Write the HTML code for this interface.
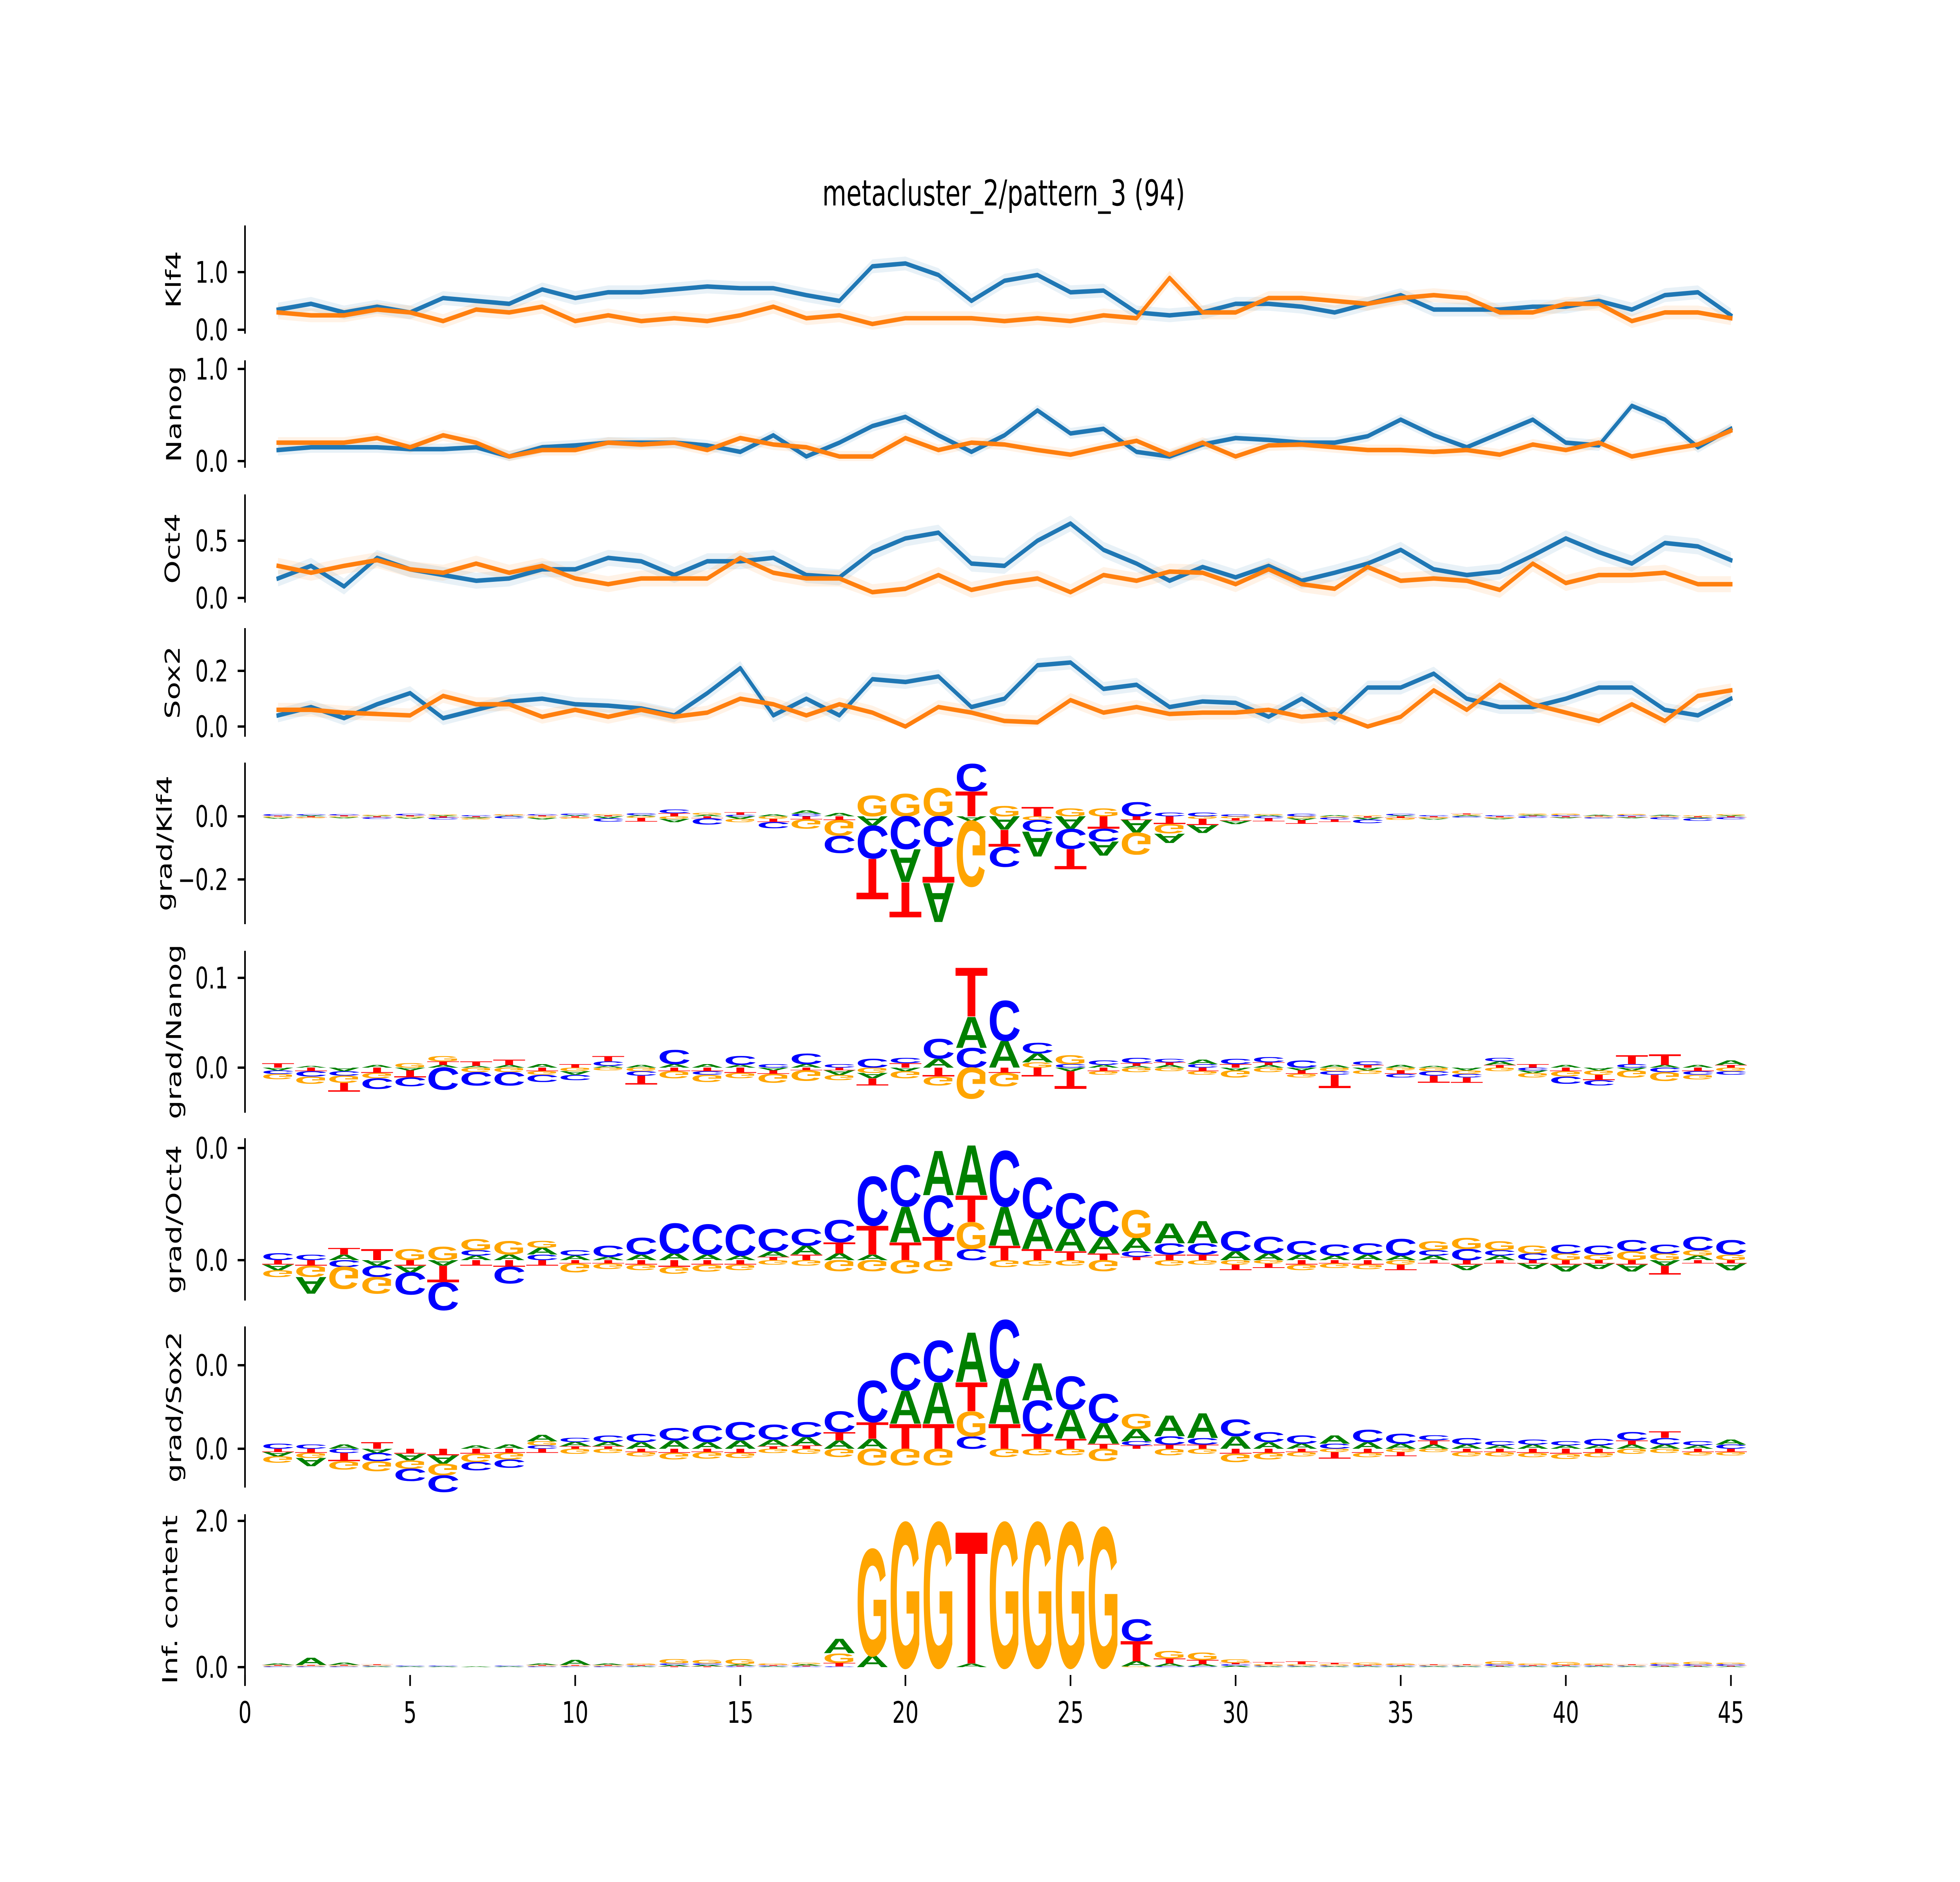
<!DOCTYPE html>
<html><head><meta charset="utf-8"><title>metacluster_2/pattern_3</title>
<style>html,body{margin:0;padding:0;background:#fff;overflow:hidden;width:100%;height:100%}svg{display:block;width:100vw;height:100vh}</style></head>
<body>
<svg id="chart" xmlns="http://www.w3.org/2000/svg" viewBox="0 0 7200 4800" preserveAspectRatio="none" font-family="'DejaVu Sans','Liberation Sans',sans-serif">
<rect width="7200" height="4800" fill="#fff"/>
<text x="3687" y="524" font-size="91" text-anchor="middle">metacluster_2/pattern_3 (94)</text>
<g id="root"></g>
</svg>
<script>
const positions=[1,2,3,4,5,6,7,8,9,10,11,12,13,14,15,16,17,18,19,20,21,22,23,24,25,26,27,28,29,30,31,32,33,34,35,36,37,38,39,40,41,42,43,44,45];
const xTicks=[0,5,10,15,20,25,30,35,40,45];

const klf4Blue=[0.35,0.45,0.3,0.4,0.3,0.55,0.5,0.45,0.7,0.55,0.65,0.65,0.7,0.75,0.72,0.72,0.6,0.5,1.1,1.15,0.95,0.5,0.85,0.95,0.65,0.68,0.3,0.25,0.3,0.45,0.45,0.4,0.3,0.45,0.6,0.35,0.35,0.35,0.4,0.4,0.5,0.35,0.6,0.65,0.25];
const klf4Orange=[0.3,0.25,0.25,0.35,0.3,0.15,0.35,0.3,0.4,0.15,0.25,0.15,0.2,0.15,0.25,0.4,0.2,0.25,0.1,0.2,0.2,0.2,0.15,0.2,0.15,0.25,0.2,0.9,0.3,0.3,0.55,0.55,0.5,0.45,0.55,0.6,0.55,0.3,0.3,0.45,0.45,0.15,0.3,0.3,0.2];
const nanogBlue=[0.12,0.15,0.15,0.15,0.13,0.13,0.15,0.05,0.15,0.17,0.2,0.2,0.2,0.17,0.1,0.28,0.05,0.2,0.38,0.48,0.28,0.1,0.28,0.55,0.3,0.35,0.1,0.05,0.18,0.25,0.23,0.2,0.2,0.27,0.45,0.28,0.15,0.3,0.45,0.2,0.17,0.6,0.45,0.15,0.35];
const nanogOrange=[0.2,0.2,0.2,0.25,0.15,0.28,0.2,0.05,0.12,0.12,0.2,0.18,0.2,0.12,0.25,0.18,0.15,0.05,0.05,0.25,0.12,0.2,0.18,0.12,0.07,0.15,0.22,0.07,0.2,0.05,0.17,0.18,0.15,0.12,0.12,0.1,0.12,0.07,0.18,0.12,0.2,0.05,0.12,0.18,0.33];
const oct4Blue=[0.17,0.28,0.1,0.35,0.25,0.2,0.15,0.17,0.25,0.25,0.35,0.32,0.2,0.32,0.32,0.35,0.2,0.18,0.4,0.52,0.57,0.3,0.28,0.5,0.65,0.42,0.3,0.15,0.27,0.18,0.28,0.15,0.22,0.3,0.42,0.25,0.2,0.23,0.37,0.52,0.4,0.3,0.48,0.45,0.33];
const oct4Orange=[0.28,0.22,0.28,0.33,0.25,0.22,0.3,0.22,0.28,0.17,0.12,0.17,0.17,0.17,0.35,0.22,0.17,0.17,0.05,0.08,0.2,0.07,0.13,0.17,0.05,0.2,0.15,0.23,0.22,0.12,0.25,0.12,0.08,0.27,0.15,0.17,0.15,0.07,0.3,0.13,0.2,0.2,0.22,0.12,0.12];
const sox2Blue=[0.04,0.07,0.03,0.08,0.12,0.03,0.06,0.09,0.1,0.08,0.075,0.065,0.04,0.12,0.21,0.04,0.1,0.04,0.17,0.16,0.18,0.07,0.1,0.22,0.23,0.135,0.15,0.07,0.09,0.085,0.035,0.1,0.03,0.14,0.14,0.19,0.1,0.07,0.07,0.1,0.14,0.14,0.06,0.04,0.1];
const sox2Orange=[0.06,0.06,0.05,0.045,0.04,0.11,0.08,0.08,0.035,0.06,0.035,0.06,0.035,0.05,0.1,0.08,0.04,0.08,0.05,0.0,0.07,0.05,0.02,0.015,0.095,0.05,0.07,0.045,0.05,0.05,0.06,0.035,0.045,0.0,0.035,0.13,0.06,0.15,0.08,0.05,0.02,0.08,0.02,0.11,0.13];
const bandHalf=[0.12,0.06,0.07,0.025];

const kA=[-0.004,0.003,-0.003,0.002,-0.004,0.003,-0.003,0.002,-0.005,0.004,-0.006,0.004,-0.01,0.005,-0.008,0.006,0.01,0.01,-0.03,-0.105,-0.125,-0.015,-0.043,-0.08,-0.04,-0.045,-0.04,-0.03,-0.025,-0.01,0.004,-0.006,0.004,-0.006,0.003,-0.004,0.003,-0.003,0.003,-0.003,0.003,-0.003,0.003,-0.003,0.003];
const kC=[0.005,0.004,0.004,-0.005,0.005,-0.006,0.004,-0.006,0.004,0.005,-0.01,0.006,0.012,-0.02,0.005,-0.02,0.008,-0.055,-0.105,-0.105,-0.097,0.087,-0.064,-0.037,-0.064,-0.04,0.045,0.012,0.012,0.006,-0.006,0.008,-0.006,-0.012,0.005,0.004,-0.004,0.004,-0.005,0.004,-0.004,0.004,-0.006,-0.008,-0.006];
const kG=[-0.004,-0.003,-0.003,0.003,-0.004,0.003,-0.004,0.003,-0.005,-0.004,0.004,-0.005,-0.008,0.006,-0.01,-0.008,-0.03,-0.05,0.066,0.073,0.09,-0.21,0.033,-0.012,0.025,0.025,-0.07,-0.03,-0.008,-0.006,0.004,-0.006,-0.004,0.003,-0.006,-0.004,0.003,-0.003,0.004,0.005,-0.003,0.004,-0.003,0.003,0.004];
const kT=[0.002,-0.003,0.003,-0.003,0.003,-0.004,-0.003,0.002,0.003,-0.004,0.003,-0.012,0.01,-0.006,0.008,-0.01,-0.01,-0.012,-0.13,-0.112,-0.115,0.08,-0.054,0.03,-0.065,-0.04,-0.012,-0.025,-0.02,-0.008,-0.01,-0.012,-0.008,-0.004,-0.005,-0.003,0.003,-0.003,0.002,-0.003,0.002,-0.003,0.002,-0.003,-0.003];

const nA=[-0.003,0.002,-0.004,0.003,-0.003,0.003,0.002,0.003,0.004,-0.004,0.002,0.003,0.004,0.004,0.003,-0.003,0.004,-0.005,-0.006,-0.004,0.01,0.035,0.03,0.01,-0.004,0.003,0.002,0.003,0.005,-0.003,0.003,-0.003,0.003,-0.003,0.003,0.002,-0.003,0.004,-0.003,0.003,-0.003,-0.003,0.003,0.003,0.005];
const nC=[-0.004,-0.006,-0.005,-0.012,-0.01,-0.025,-0.015,-0.015,-0.008,-0.006,0.005,-0.005,0.016,-0.004,0.01,0.004,0.012,0.004,0.01,0.006,0.022,0.022,0.045,0.012,0.004,0.005,0.006,0.004,0.004,0.006,0.006,0.008,-0.004,0.004,-0.004,-0.005,-0.004,0.004,-0.003,-0.008,-0.006,0.004,-0.005,-0.004,-0.004];
const nG=[-0.006,-0.008,-0.008,-0.006,0.005,0.006,-0.005,-0.005,-0.004,-0.004,-0.003,-0.004,-0.008,-0.008,-0.006,-0.01,-0.012,-0.006,-0.006,-0.008,-0.01,-0.035,-0.015,0.006,0.01,-0.004,-0.005,-0.004,-0.004,-0.008,-0.005,-0.004,-0.004,-0.004,-0.003,-0.004,-0.004,-0.004,-0.005,-0.006,-0.005,-0.008,-0.01,-0.005,-0.004];
const nT=[0.005,-0.004,-0.01,-0.006,-0.008,0.004,0.005,0.006,-0.004,0.004,0.006,-0.01,-0.004,-0.004,-0.006,-0.004,-0.003,-0.003,-0.008,0.005,-0.01,0.055,-0.006,-0.01,-0.02,-0.004,0.003,0.003,-0.004,0.004,0.003,-0.004,-0.015,0.003,-0.004,-0.008,-0.006,0.003,0.004,-0.004,-0.006,0.01,0.012,-0.004,0.003];

const oA=[-0.05,-0.15,0.05,-0.05,-0.06,-0.05,0.04,0.05,0.06,0.04,0.03,0.05,0.06,0.05,0.04,0.05,0.08,0.06,0.05,0.32,0.4,0.45,0.35,0.27,0.2,0.15,0.12,0.18,0.2,0.08,0.06,0.05,0.04,0.05,0.04,0.04,-0.05,0.04,-0.05,-0.06,-0.05,-0.06,-0.05,0.04,-0.06];
const oC=[0.06,0.05,-0.06,-0.1,-0.2,-0.25,0.05,-0.15,0.05,0.05,0.1,0.15,0.27,0.27,0.28,0.2,0.15,0.2,0.44,0.37,0.37,0.1,0.5,0.37,0.32,0.32,0.05,0.1,0.1,0.18,0.15,0.12,0.1,0.1,0.15,0.05,0.1,0.05,0.06,0.08,0.08,0.1,0.08,0.12,0.13];
const oG=[-0.06,-0.1,-0.2,-0.15,0.1,0.12,0.1,0.12,0.06,-0.08,-0.05,-0.05,-0.06,-0.06,-0.05,-0.04,-0.05,-0.1,-0.1,-0.12,-0.1,0.24,-0.06,-0.05,-0.05,-0.1,0.25,-0.05,-0.04,-0.04,-0.03,-0.05,-0.04,-0.04,-0.04,0.08,0.1,0.08,0.07,0.06,0.05,0.08,0.06,0.05,0.05];
const oT=[-0.04,-0.05,0.06,0.1,-0.05,-0.15,-0.05,-0.06,-0.05,-0.03,-0.03,-0.04,-0.06,-0.04,-0.04,0.03,0.05,0.1,0.26,0.16,0.21,0.24,0.13,0.1,0.08,0.06,0.03,0.05,0.05,-0.05,-0.04,-0.04,-0.03,-0.04,-0.05,-0.03,-0.04,-0.03,-0.03,-0.04,-0.03,-0.04,-0.08,-0.03,-0.03];

const sA=[-0.05,-0.1,0.05,-0.05,-0.08,-0.1,0.04,0.05,0.08,0.05,0.05,0.08,0.1,0.08,0.1,0.08,0.1,0.1,0.12,0.4,0.5,0.6,0.55,0.45,0.35,0.25,0.15,0.25,0.3,0.15,0.08,0.06,0.1,0.08,0.06,0.05,0.05,0.04,0.05,0.04,0.04,0.05,0.05,0.04,0.06];
const sC=[0.06,0.05,-0.05,-0.1,-0.15,-0.2,-0.1,-0.1,0.04,0.05,0.08,0.1,0.15,0.2,0.22,0.18,0.18,0.25,0.5,0.45,0.5,0.15,0.7,0.4,0.4,0.35,0.05,0.1,0.08,0.2,0.12,0.1,0.06,0.15,0.12,0.06,0.08,0.05,0.06,0.05,0.08,0.1,0.08,0.05,0.05];
const sG=[-0.08,-0.06,-0.1,-0.12,-0.1,-0.14,-0.1,-0.08,0.05,-0.06,-0.05,-0.05,-0.08,-0.08,-0.06,-0.05,-0.06,-0.1,-0.2,-0.2,-0.2,0.3,-0.1,-0.08,-0.08,-0.15,0.18,-0.08,-0.06,-0.1,-0.08,-0.05,-0.04,-0.05,-0.04,-0.04,-0.05,-0.05,-0.05,-0.06,-0.05,-0.06,-0.05,-0.04,-0.04];
const sT=[-0.04,-0.05,-0.1,0.08,-0.06,-0.08,-0.06,-0.05,-0.05,0.03,0.03,-0.04,-0.05,-0.04,-0.05,0.03,0.04,0.1,0.2,0.3,0.3,0.35,0.3,0.18,0.12,0.06,0.04,0.05,0.05,-0.06,-0.05,-0.04,-0.08,-0.05,-0.05,0.05,-0.04,-0.04,-0.05,-0.06,-0.05,0.05,0.08,-0.04,-0.04];

const iA=[0.02,0.1,0.03,0.01,0.01,0.01,0.01,0.01,0.02,0.07,0.02,0.01,0.02,0.02,0.02,0.01,0.02,0.2,0.16,0.0,0.0,0.05,0.0,0.0,0.0,0.0,0.07,0.04,0.03,0.02,0.01,0.01,0.01,0.01,0.01,0.01,0.01,0.01,0.01,0.01,0.01,0.01,0.01,0.01,0.01];
const iC=[0.01,0.01,0.01,0.01,0.01,0.01,0.0,0.01,0.01,0.01,0.01,0.01,0.02,0.02,0.01,0.01,0.01,0.01,0.0,0.0,0.0,0.0,0.0,0.0,0.0,0.0,0.3,0.01,0.01,0.02,0.01,0.01,0.01,0.01,0.01,0.01,0.01,0.02,0.01,0.01,0.01,0.01,0.02,0.02,0.02];
const iG=[0.01,0.01,0.01,0.01,0.0,0.0,0.0,0.0,0.01,0.01,0.01,0.02,0.06,0.05,0.07,0.02,0.02,0.13,1.47,2.0,2.0,0.0,2.0,2.0,2.0,1.93,0.01,0.1,0.1,0.05,0.02,0.02,0.02,0.03,0.02,0.01,0.01,0.04,0.02,0.04,0.02,0.01,0.02,0.03,0.02];
const iT=[0.01,0.01,0.01,0.01,0.0,0.0,0.0,0.0,0.01,0.01,0.01,0.01,0.01,0.01,0.01,0.01,0.01,0.05,0.0,0.0,0.0,1.82,0.0,0.0,0.0,0.0,0.28,0.07,0.06,0.02,0.03,0.04,0.02,0.01,0.01,0.01,0.01,0.01,0.01,0.01,0.01,0.01,0.01,0.01,0.01];

const NS='http://www.w3.org/2000/svg';
const root=document.getElementById('root');
const X0=900, UX=121.3;
function xS(v){return X0+v*UX;}
function mk(tag,attrs,parent){const e=document.createElementNS(NS,tag);for(const k in attrs)e.setAttribute(k,attrs[k]);(parent||root).appendChild(e);return e;}

const layouts=[
 {name:'klf4',label:'Klf4',top:575,bot:851,y0:841,k:147,ticks:[0,1],tl:['0.0','1.0'],lx:638},
 {name:'nanog',label:'Nanog',top:919,bot:1193,y0:1176,k:235,ticks:[0,1],tl:['0.0','1.0'],lx:640},
 {name:'oct4',label:'Oct4',top:1261,bot:1537,y0:1525,k:292,ticks:[0,0.5],tl:['0.0','0.5'],lx:635},
 {name:'sox2',label:'Sox2',top:1602,bot:1879,y0:1853,k:710,ticks:[0,0.2],tl:['0.0','0.2'],lx:635},
 {name:'grad-klf4',label:'grad/Klf4',top:1945,bot:2357,y0:2082,k:805,ticks:[0,-0.2],tl:['0.0','\u22120.2'],lx:605},
 {name:'grad-nanog',label:'grad/Nanog',top:2425,bot:2838,y0:2723,k:2290,ticks:[0,0.1],tl:['0.0','0.1'],lx:640},
 {name:'grad-oct4',label:'grad/Oct4',top:2903,bot:3317,y0:3214,k:286,ticks:[0,1],tl:['0.0','0.0'],lx:640},
 {name:'grad-sox2',label:'grad/Sox2',top:3383,bot:3794,y0:3695,k:213,ticks:[0,1],tl:['0.0','0.0'],lx:640},
 {name:'info-content',label:'Inf. content',top:3862,bot:4298,y0:4252,k:186.5,ticks:[0,2],tl:['0.0','2.0'],lx:625}
];

layouts.forEach(L=>{
  const g=mk('g',{});
  
  
  const sp=mk('line',{x1:X0,x2:X0,y1:L.top,y2:L.bot,stroke:'#000','stroke-width':6},g);
  
  
  L.ticks.forEach((t,i)=>{
    const y=L.y0-t*L.k;
    const tk=mk('line',{x1:X0-27,x2:X0,y1:y,y2:y,stroke:'#000','stroke-width':6},g);
    
    
    const tx=mk('text',{x:838,y:y+27,'font-size':76,'text-anchor':'end'},g);
    tx.textContent=L.tl[i];
    
    
  });
  const cy=(L.top+L.bot)/2;
  const yl=mk('text',{x:L.lx,y:cy,'font-size':76,'text-anchor':'middle','dominant-baseline':'central',transform:'rotate(-90 '+L.lx+' '+cy+')'},g);
  yl.textContent=L.label;
  
  
});

const lineSeries=[[klf4Blue,klf4Orange],[nanogBlue,nanogOrange],[oct4Blue,oct4Orange],[sox2Blue,sox2Orange]];
const cols=['#1f77b4','#ff7f0e'];
const snames=['blue','orange'];
lineSeries.forEach((pair,pi)=>{
  const L=layouts[pi];
  pair.forEach((vals,si)=>{
    const up=positions.map((p,i)=>xS(p)+','+(L.y0-(vals[i]+bandHalf[pi])*L.k));
    const dn=positions.map((p,i)=>xS(p)+','+(L.y0-Math.max(0,vals[i]-bandHalf[pi])*L.k)).reverse();
    const band=mk('polygon',{points:up.concat(dn).join(' '),fill:cols[si],'fill-opacity':0.1,stroke:'none'});
    
    
  });
  pair.forEach((vals,si)=>{
    const pts=positions.map((p,i)=>xS(p)+','+(L.y0-vals[i]*L.k)).join(' ');
    const ln=mk('polyline',{points:pts,fill:'none',stroke:cols[si],'stroke-width':11.5,'stroke-linejoin':'round','stroke-linecap':'square'});
    
    
  });
});

const letterColors={A:'#008000',C:'#0000ff',G:'#ffa500',T:'#ff0000'};
const logos=[[kA,kC,kG,kT],[nA,nC,nG,nT],[oA,oC,oG,oT],[sA,sC,sG,sT],[iA,iC,iG,iT]];
const LET=['A','C','G','T'];
const CAP=70;
logos.forEach((arrs,li)=>{
  const L=layouts[4+li];
  const g=mk('g',{});
  
  
  positions.forEach((p,i)=>{
    const items=LET.map((l,j)=>({l:l,v:arrs[j][i]}));
    const pos=items.filter(o=>o.v>0).sort((a,b)=>a.v-b.v);
    const neg=items.filter(o=>o.v<0).sort((a,b)=>a.v-b.v).reverse();
    const xl=xS(p)-UX/2;
    let yb=L.y0;
    pos.forEach(o=>{
      const h=o.v*L.k;
      if(h>=1){
        const t=mk('text',{x:0,y:0,'font-size':100,'font-family':"'Liberation Sans',sans-serif",'font-weight':'bold',fill:letterColors[o.l],textLength:UX,lengthAdjust:'spacingAndGlyphs',transform:'translate('+xl+' '+yb+') scale(1 '+(h/CAP)+')'},g);
        t.textContent=o.l;
        
        
      }
      yb-=h;
    });
    let yt=L.y0;
    neg.forEach(o=>{
      const h=-o.v*L.k;
      if(h>=1){
        const t=mk('text',{x:0,y:0,'font-size':100,'font-family':"'Liberation Sans',sans-serif",'font-weight':'bold',fill:letterColors[o.l],textLength:UX,lengthAdjust:'spacingAndGlyphs',transform:'translate('+xl+' '+yt+') scale(1 '+(-h/CAP)+')'},g);
        t.textContent=o.l;
        
        
      }
      yt+=h;
    });
  });
});

xTicks.forEach(t=>{
  const x=xS(t);
  const tk=mk('line',{x1:x,x2:x,y1:4272,y2:4300,stroke:'#000','stroke-width':6});
  
  
  const tx=mk('text',{x:x,y:4394,'font-size':76,'text-anchor':'middle'});
  tx.textContent=String(t);
  
  
});
</script>
</body></html>
